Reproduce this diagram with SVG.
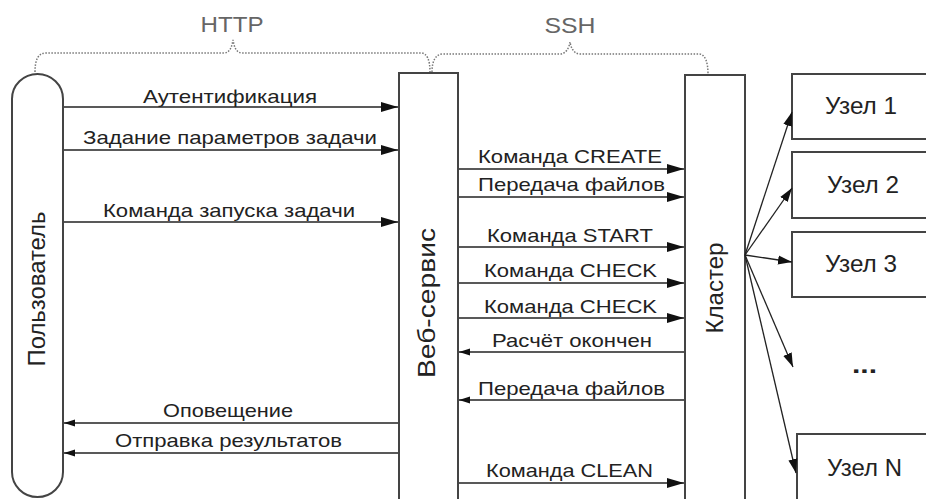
<svg xmlns="http://www.w3.org/2000/svg" width="926" height="499" viewBox="0 0 926 499">
<style>
.box{fill:#fff;stroke:#444;stroke-width:2}
.lbl{font-family:"Liberation Sans",Arial,sans-serif;font-size:18.5px;fill:#222}
.big{font-family:"Liberation Sans",Arial,sans-serif;font-size:23px;fill:#222}
.vt{font-family:"Liberation Sans",Arial,sans-serif;font-size:24px;fill:#222}
.proto{font-family:"Liberation Sans",Arial,sans-serif;font-size:22px;fill:#666}
.msg{stroke:#222;stroke-width:1.5;fill:none}
.fan{stroke:#222;stroke-width:1.3;fill:none;marker-end:url(#af)}
.r{marker-end:url(#ah)}
.l{marker-end:url(#as)}
.brace{fill:none;stroke:#777;stroke-width:1.5;stroke-dasharray:1.5 1.5}
</style>
<defs>
<marker id="ah" markerUnits="userSpaceOnUse" markerWidth="18" markerHeight="12" refX="17" refY="6" orient="auto"><path d="M0,1 L17,6 L0,11 z" fill="#111"/></marker>
<marker id="as" markerUnits="userSpaceOnUse" markerWidth="12" markerHeight="8" refX="11" refY="4" orient="auto"><path d="M0,0.5 L11,4 L0,7.5 z" fill="#111"/></marker>
<marker id="af" markerUnits="userSpaceOnUse" markerWidth="15" markerHeight="10" refX="14" refY="5" orient="auto"><path d="M0,0.5 L14,5 L0,9.5 z" fill="#111"/></marker>
</defs>
<rect width="926" height="499" fill="#fff"/>

<g id="protocols">
<path class="brace" d="M35,72 C35,60 38,53 46,53 L224,53 C230,53 232,46 233,40 C234,46 236,53 242,53 L421,53 C427,53 430,60 430,72"/>
<path class="brace" d="M432,72 C432,62 435,54 443,54 L560,54 C566,54 569,48 570,42 C571,48 574,54 580,54 L699,54 C705,54 708,62 708,74"/>
<text class="proto" x="232" y="32" text-anchor="middle" textLength="63" lengthAdjust="spacingAndGlyphs">HTTP</text>
<text class="proto" x="570" y="33" text-anchor="middle" textLength="51" lengthAdjust="spacingAndGlyphs">SSH</text>
</g>

<g id="user">
<rect class="box" x="12" y="74" width="51" height="423" rx="25.5" ry="25"/>
<text class="vt" transform="translate(45,289) rotate(-90)" text-anchor="middle" textLength="155" lengthAdjust="spacingAndGlyphs">Пользователь</text>
</g>

<g id="webservice">
<rect class="box" x="399" y="73" width="59" height="440"/>
<text class="vt" transform="translate(435,303) rotate(-90)" text-anchor="middle" textLength="150" lengthAdjust="spacingAndGlyphs">Веб-сервис</text>
</g>

<g id="cluster">
<rect class="box" x="685" y="75" width="60" height="440"/>
<text class="vt" transform="translate(723,288) rotate(-90)" text-anchor="middle" textLength="91" lengthAdjust="spacingAndGlyphs">Кластер</text>
</g>

<g id="node1">
<rect class="box" x="792" y="74" width="150" height="65"/>
<text class="big" x="825" y="114" textLength="72" lengthAdjust="spacingAndGlyphs">Узел 1</text>
</g>
<g id="node2">
<rect class="box" x="792" y="152" width="150" height="66"/>
<text class="big" x="827" y="193" textLength="72" lengthAdjust="spacingAndGlyphs">Узел 2</text>
</g>
<g id="node3">
<rect class="box" x="792" y="232" width="150" height="65"/>
<text class="big" x="825" y="272" textLength="72" lengthAdjust="spacingAndGlyphs">Узел 3</text>
</g>
<g id="ellipsis">
<text class="big" x="852" y="373" textLength="25" lengthAdjust="spacingAndGlyphs" font-weight="bold">...</text>
</g>
<g id="nodeN">
<rect class="box" x="797" y="434" width="150" height="80"/>
<text class="big" x="827" y="476" textLength="75" lengthAdjust="spacingAndGlyphs">Узел N</text>
</g>

<g id="connectors">
<line class="msg r" x1="64" y1="107" x2="398" y2="107"/>
<line class="msg r" x1="64" y1="150" x2="398" y2="150"/>
<line class="msg r" x1="64" y1="222" x2="398" y2="222"/>
<line class="msg l" x1="398" y1="423" x2="64" y2="423"/>
<line class="msg l" x1="398" y1="453" x2="64" y2="453"/>

<line class="msg r" x1="459" y1="169" x2="684" y2="169"/>
<line class="msg r" x1="459" y1="197" x2="684" y2="197"/>
<line class="msg r" x1="459" y1="247" x2="684" y2="247"/>
<line class="msg r" x1="459" y1="283" x2="684" y2="283"/>
<line class="msg r" x1="459" y1="318" x2="684" y2="318"/>
<line class="msg l" x1="684" y1="352" x2="459" y2="352"/>
<line class="msg l" x1="684" y1="400" x2="459" y2="400"/>
<line class="msg r" x1="459" y1="483" x2="684" y2="483"/>

<line class="fan" x1="745" y1="255" x2="792" y2="112"/>
<line class="fan" x1="745" y1="255" x2="792" y2="188"/>
<line class="fan" x1="745" y1="255" x2="792" y2="262"/>
<line class="fan" x1="745" y1="255" x2="793" y2="367"/>
<line class="fan" x1="745" y1="255" x2="796" y2="473"/>

<text class="lbl" x="143" y="103" textLength="174" lengthAdjust="spacingAndGlyphs">Аутентификация</text>
<text class="lbl" x="83" y="144" textLength="294" lengthAdjust="spacingAndGlyphs">Задание параметров задачи</text>
<text class="lbl" x="103" y="217" textLength="252" lengthAdjust="spacingAndGlyphs">Команда запуска задачи</text>
<text class="lbl" x="163" y="417" textLength="130" lengthAdjust="spacingAndGlyphs">Оповещение</text>
<text class="lbl" x="115" y="447" textLength="227" lengthAdjust="spacingAndGlyphs">Отправка результатов</text>

<text class="lbl" x="478" y="163" textLength="184" lengthAdjust="spacingAndGlyphs">Команда CREATE</text>
<text class="lbl" x="478" y="191" textLength="187" lengthAdjust="spacingAndGlyphs">Передача файлов</text>
<text class="lbl" x="487" y="242" textLength="166" lengthAdjust="spacingAndGlyphs">Команда START</text>
<text class="lbl" x="484" y="277" textLength="173" lengthAdjust="spacingAndGlyphs">Команда CHECK</text>
<text class="lbl" x="484" y="313" textLength="173" lengthAdjust="spacingAndGlyphs">Команда CHECK</text>
<text class="lbl" x="492" y="347" textLength="160" lengthAdjust="spacingAndGlyphs">Расчёт окончен</text>
<text class="lbl" x="478" y="395" textLength="187" lengthAdjust="spacingAndGlyphs">Передача файлов</text>
<text class="lbl" x="486" y="477" textLength="167" lengthAdjust="spacingAndGlyphs">Команда CLEAN</text>
</g>
</svg>
